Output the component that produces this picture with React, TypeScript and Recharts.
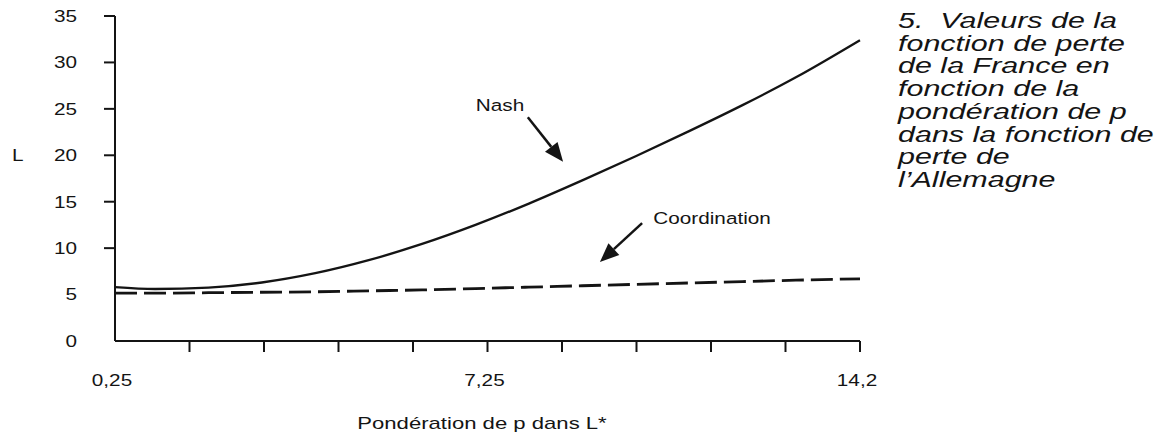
import React from 'react';
import { LineChart, Line, XAxis, YAxis, ReferenceLine, ReferenceDot } from 'recharts';

// pondération de p dans L* (x) and loss of France L (y)
const weights = [0.25, 1, 2, 3, 4, 5, 6, 7, 8, 9, 10, 11, 12, 13, 14.2];
const nashLoss = [5.8, 5.6, 5.75, 6.3, 7.3, 8.7, 10.45, 12.5, 14.8, 17.3, 19.9, 22.6, 25.4, 28.4, 32.4];
const coordLoss = [5.15, 5.15, 5.2, 5.25, 5.3, 5.4, 5.5, 5.65, 5.8, 5.95, 6.1, 6.25, 6.4, 6.55, 6.7];

const xTicks = [0.25, 1.645, 3.04, 4.435, 5.83, 7.225, 8.62, 10.015, 11.41, 12.805, 14.2];
const xTickLabels = ['0,25', '', '', '', '', '7,25', '', '', '', '', '14,2'];
const yTicks = [0, 5, 10, 15, 20, 25, 30, 35];

const titleLines = [
  '5.\u00a0 Valeurs de la',
  'fonction de perte',
  'de la France en',
  'fonction de la',
  'pondération de p',
  'dans la fonction de',
  'perte de',
  'l\u2019Allemagne',
];

const ink = '#141414';
const font = '"Liberation Sans", Arial, sans-serif';
const stretch = 1.22;

const data = weights.map((w, i) => ({ w, nash: nashLoss[i], coord: coordLoss[i] }));

const YTick = (props: any) => {
  const { x, y, payload } = props;
  return (
    <g>
      {payload.value >= 10 && <line x1={x - 11} x2={x} y1={y} y2={y} stroke={ink} strokeWidth={2} />}
      <text
        transform={`translate(${x - 38},${y}) scale(${stretch},1)`}
        textAnchor="end"
        dominantBaseline="central"
        fontFamily={font}
        fontSize={17}
        fill={ink}
      >
        {payload.value}
      </text>
    </g>
  );
};

const XTick = (props: any) => {
  const { x, y, index } = props;
  return (
    <g>
      {index > 0 && <line x1={x} x2={x} y1={y} y2={y + 11} stroke={ink} strokeWidth={2} />}
      <text
        transform={`translate(${x - 3},${y + 45}) scale(${stretch},1)`}
        textAnchor="middle"
        fontFamily={font}
        fontSize={17}
        fill={ink}
      >
        {xTickLabels[index]}
      </text>
    </g>
  );
};

const Arrow = (props: any) => {
  const { x1, y1, x2, y2 } = props;
  const a = Math.atan2(y2 - y1, x2 - x1);
  const len = 19;
  const hw = 8;
  const bx = x2 - len * Math.cos(a);
  const by = y2 - len * Math.sin(a);
  const px = -Math.sin(a) * hw;
  const py = Math.cos(a) * hw;
  return (
    <g>
      <line x1={x1} y1={y1} x2={bx} y2={by} stroke={ink} strokeWidth={2.5} />
      <polygon points={`${x2},${y2} ${bx + px},${by + py} ${bx - px},${by - py}`} fill={ink} />
    </g>
  );
};

const labelShape = (text: string) => (p: any) => (
  <text
    transform={`translate(${p.cx},${p.cy}) scale(${stretch},1)`}
    textAnchor="middle"
    dominantBaseline="central"
    fontFamily={font}
    fontSize={17}
    fill={ink}
  >
    {text}
  </text>
);

export default function App() {
  return (
    <div style={{ position: 'absolute', left: 0, top: 0, width: 1160, height: 441, background: '#fff', overflow: 'hidden' }}>
      <LineChart width={1160} height={441} data={data} margin={{ top: 16, right: 300, left: 0, bottom: 60 }}>
        <XAxis
          dataKey="w"
          type="number"
          domain={[0.25, 14.2]}
          ticks={xTicks}
          interval={0}
          height={40}
          tickSize={0}
          tickMargin={0}
          tickLine={false}
          axisLine={{ stroke: ink, strokeWidth: 2 }}
          tick={<XTick />}
        />
        <YAxis
          type="number"
          domain={[0, 35]}
          ticks={yTicks}
          interval={0}
          width={115}
          tickSize={0}
          tickMargin={0}
          tickLine={false}
          axisLine={{ stroke: ink, strokeWidth: 2 }}
          tick={<YTick />}
        />
        <Line dataKey="nash" type="monotone" stroke={ink} strokeWidth={2.3} dot={false} isAnimationActive={false} />
        <Line
          dataKey="coord"
          type="monotone"
          stroke={ink}
          strokeWidth={2.8}
          strokeDasharray="22 7"
          dot={false}
          isAnimationActive={false}
        />
        <ReferenceLine segment={[{ x: 7.98, y: 24.1 }, { x: 8.64, y: 19.3 }]} shape={<Arrow />} />
        <ReferenceLine segment={[{ x: 10.12, y: 12.7 }, { x: 9.33, y: 8.5 }]} shape={<Arrow />} />
        <ReferenceDot x={7.46} y={25.4} r={1} shape={labelShape('Nash')} />
        <ReferenceDot x={11.43} y={13.2} r={1} shape={labelShape('Coordination')} />
      </LineChart>
      <div
        style={{
          position: 'absolute',
          left: 12,
          top: 146,
          fontFamily: font,
          fontSize: 17,
          color: ink,
          transform: `scaleX(${stretch})`,
          transformOrigin: 'left top',
        }}
      >
        L
      </div>
      <div
        style={{
          position: 'absolute',
          left: 482,
          top: 414,
          fontFamily: font,
          fontSize: 17,
          color: ink,
          whiteSpace: 'nowrap',
          transform: 'translateX(-50%) scaleX(1.3)',
          transformOrigin: 'center top',
        }}
      >
        Pondération de p dans L*
      </div>
      <div
        style={{
          position: 'absolute',
          left: 898,
          top: 10,
          fontFamily: font,
          fontStyle: 'italic',
          fontSize: 22,
          lineHeight: '22.7px',
          color: ink,
          whiteSpace: 'nowrap',
          transform: 'scaleX(1.385)',
          transformOrigin: 'left top',
        }}
      >
        {titleLines.map((t, i) => (
          <div key={i}>{t}</div>
        ))}
      </div>
    </div>
  );
}
